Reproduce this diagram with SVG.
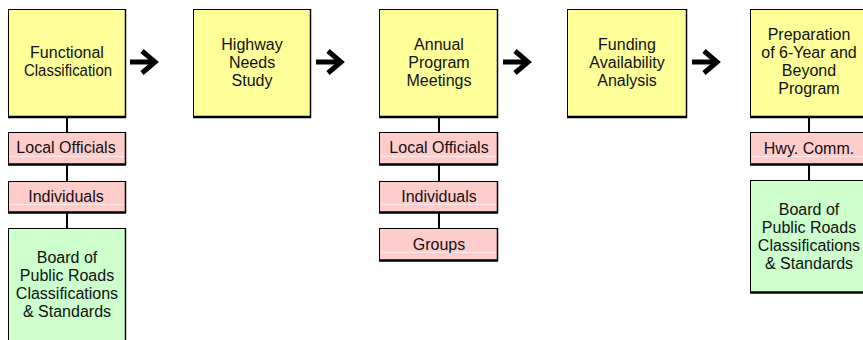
<svg xmlns="http://www.w3.org/2000/svg" width="863" height="340" viewBox="0 0 863 340">
<style>
  text { font-family: "Liberation Sans", Arial, sans-serif; font-size: 16px; fill: #111; text-anchor: middle; }
  .y { fill: #FFFF99; stroke: #000; stroke-width: 1; }
  .p { fill: #FFCCCC; stroke: #000; stroke-width: 1; }
  .g { fill: #CCFFCC; stroke: #000; stroke-width: 1; }
  .b { stroke: #000; stroke-width: 2.5; fill: none; }
  .r { stroke: #000; stroke-width: 1.5; fill: none; }
  .hl { stroke: #fff; stroke-width: 1; opacity: 0.6; }
  .c { stroke: #000; stroke-width: 2; fill: none; }
  .ar { stroke: #000; stroke-width: 5; fill: none; stroke-linejoin: miter; }
</style>
<rect width="863" height="340" fill="#fff"/>
<g id="connectors">
  <line class="c" x1="67" y1="118" x2="67" y2="132"/>
  <line class="c" x1="67" y1="165" x2="67" y2="181"/>
  <line class="c" x1="67" y1="213" x2="67" y2="228"/>
  <line class="c" x1="439" y1="118" x2="439" y2="132"/>
  <line class="c" x1="439" y1="165" x2="439" y2="181"/>
  <line class="c" x1="439" y1="213" x2="439" y2="228"/>
  <line class="c" x1="809" y1="118" x2="809" y2="132"/>
  <line class="c" x1="809" y1="165" x2="809" y2="180"/>
  <g id="arrow1" transform="translate(130,0)"><line class="ar" x1="0" y1="62" x2="23" y2="62"/><polyline class="ar" points="12,51 25,62 12,73"/></g>
  <g id="arrow2" transform="translate(316,0)"><line class="ar" x1="0" y1="62" x2="23" y2="62"/><polyline class="ar" points="12,51 25,62 12,73"/></g>
  <g id="arrow3" transform="translate(503,0)"><line class="ar" x1="0" y1="62" x2="23" y2="62"/><polyline class="ar" points="12,51 25,62 12,73"/></g>
  <g id="arrow4" transform="translate(692,0)"><line class="ar" x1="0" y1="62" x2="23" y2="62"/><polyline class="ar" points="12,51 25,62 12,73"/></g>
</g>
<g id="functional-classification">
  <rect class="y" x="8.5" y="9.5" width="117" height="108"/>
  <line class="b" x1="8" y1="117" x2="126" y2="117"/><line class="r" x1="125.5" y1="9" x2="125.5" y2="118"/>
  <text x="67" y="58">Functional</text>
  <text x="68" y="76" textLength="88" lengthAdjust="spacingAndGlyphs">Classification</text>
</g>
<g id="highway-needs-study">
  <rect class="y" x="193.5" y="9.5" width="117" height="108"/>
  <line class="b" x1="193" y1="117" x2="311" y2="117"/><line class="r" x1="310.5" y1="9" x2="310.5" y2="118"/>
  <text x="252" y="50">Highway</text>
  <text x="252" y="68">Needs</text>
  <text x="252" y="86">Study</text>
</g>
<g id="annual-program-meetings">
  <rect class="y" x="379.5" y="9.5" width="118" height="108"/>
  <line class="b" x1="379" y1="117" x2="498" y2="117"/><line class="r" x1="497.5" y1="9" x2="497.5" y2="118"/>
  <text x="439" y="50">Annual</text>
  <text x="439" y="68">Program</text>
  <text x="439" y="86">Meetings</text>
</g>
<g id="funding-availability-analysis">
  <rect class="y" x="567.5" y="9.5" width="119" height="108"/>
  <line class="b" x1="567" y1="117" x2="687" y2="117"/><line class="r" x1="686.5" y1="9" x2="686.5" y2="118"/>
  <text x="627" y="50">Funding</text>
  <text x="627" y="68">Availability</text>
  <text x="627" y="86">Analysis</text>
</g>
<g id="preparation-program">
  <rect class="y" x="750.5" y="9.5" width="118" height="108"/>
  <line class="b" x1="750" y1="117" x2="869" y2="117"/>
  <text x="809" y="39.5">Preparation</text>
  <text x="809" y="57.5">of 6-Year and</text>
  <text x="809" y="75.5">Beyond</text>
  <text x="809" y="93.5">Program</text>
</g>
<g id="local-officials-1">
  <rect class="p" x="8.5" y="132.5" width="117" height="32"/>
  <line class="hl" x1="10" y1="156.5" x2="124" y2="156.5"/>
  <line class="b" x1="8" y1="164.5" x2="126" y2="164.5"/><line class="r" x1="125.5" y1="132" x2="125.5" y2="165"/>
  <text x="66" y="153">Local Officials</text>
</g>
<g id="individuals-1">
  <rect class="p" x="8.5" y="181.5" width="117" height="31"/>
  <line class="hl" x1="10" y1="204.5" x2="124" y2="204.5"/>
  <line class="b" x1="8" y1="212.5" x2="126" y2="212.5"/><line class="r" x1="125.5" y1="181" x2="125.5" y2="213"/>
  <text x="66" y="201.5">Individuals</text>
</g>
<g id="board-1">
  <rect class="g" x="8.5" y="228.5" width="117" height="120"/>
  <line class="r" x1="125.5" y1="228" x2="125.5" y2="340"/>
  <text x="67" y="262.5">Board of</text>
  <text x="67" y="280.5">Public Roads</text>
  <text x="67" y="298.5">Classifications</text>
  <text x="67" y="316.5">&amp; Standards</text>
</g>
<g id="local-officials-3">
  <rect class="p" x="379.5" y="132.5" width="118" height="32"/>
  <line class="hl" x1="381" y1="156.5" x2="496" y2="156.5"/>
  <line class="b" x1="379" y1="164.5" x2="498" y2="164.5"/><line class="r" x1="497.5" y1="132" x2="497.5" y2="165"/>
  <text x="439" y="153">Local Officials</text>
</g>
<g id="individuals-3">
  <rect class="p" x="379.5" y="181.5" width="118" height="31"/>
  <line class="hl" x1="381" y1="204.5" x2="496" y2="204.5"/>
  <line class="b" x1="379" y1="212.5" x2="498" y2="212.5"/><line class="r" x1="497.5" y1="181" x2="497.5" y2="213"/>
  <text x="439" y="201.5">Individuals</text>
</g>
<g id="groups-3">
  <rect class="p" x="379.5" y="228.5" width="118" height="32"/>
  <line class="hl" x1="381" y1="252.5" x2="496" y2="252.5"/>
  <line class="b" x1="379" y1="260.5" x2="498" y2="260.5"/><line class="r" x1="497.5" y1="228" x2="497.5" y2="261"/>
  <text x="439" y="249.5">Groups</text>
</g>
<g id="hwy-comm">
  <rect class="p" x="750.5" y="132.5" width="118" height="32"/>
  <line class="hl" x1="752" y1="156.5" x2="868" y2="156.5"/>
  <line class="b" x1="750" y1="164.5" x2="869" y2="164.5"/>
  <text x="809" y="154">Hwy. Comm.</text>
</g>
<g id="board-5">
  <rect class="g" x="750.5" y="180.5" width="118" height="112"/>
  <line class="b" x1="750" y1="292.5" x2="869" y2="292.5"/>
  <text x="809" y="214.5">Board of</text>
  <text x="809" y="232.5">Public Roads</text>
  <text x="809" y="250.5">Classifications</text>
  <text x="809" y="268.5">&amp; Standards</text>
</g>
</svg>
